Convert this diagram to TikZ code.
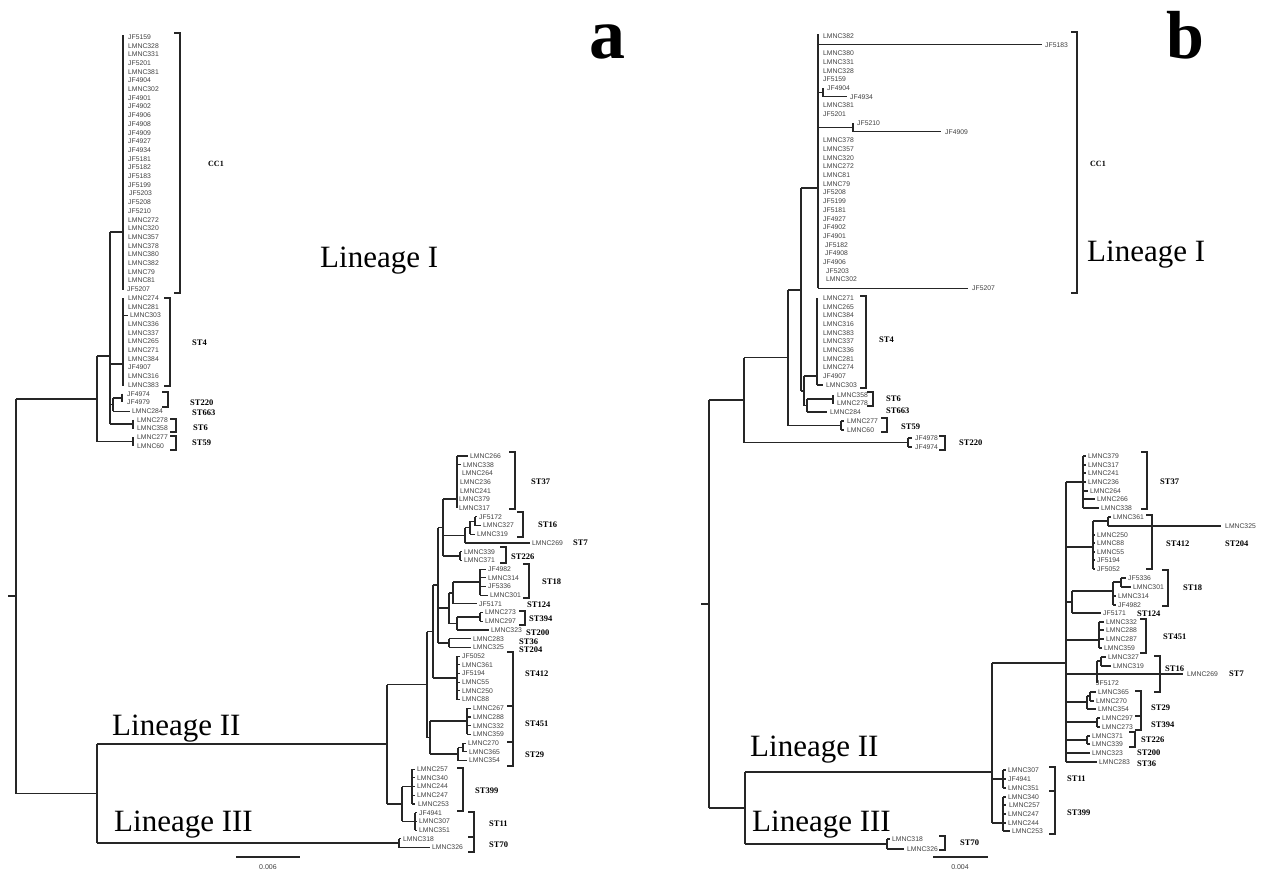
\documentclass[tikz,border=0pt]{standalone}
\usepackage{fontspec}
\setmainfont{Liberation Serif}
\newfontfamily\leaffont{Liberation Sans}
\tikzset{
 leaf/.style={font=\leaffont\fontsize{6.8}{7}\selectfont, text=black!75, anchor=west, inner sep=0pt},
 stlab/.style={font=\bfseries\fontsize{8.5}{9}\selectfont, anchor=west, inner sep=0pt},
 lin/.style={font=\fontsize{31}{31}\selectfont, anchor=base west, inner sep=0pt},
 panel/.style={font=\bfseries\fontsize{68}{68}\selectfont, anchor=base west, inner sep=0pt},
 tree/.style={draw=black!85, line width=1.15pt},
 brk/.style={draw=black!85, line width=1.3pt},
 sc/.style={font=\leaffont\fontsize{7}{8}\selectfont, text=black!75, inner sep=0pt}
}
\newcommand\Brk[3]{\draw[brk] ({#1-6},#2) -- (#1,#2) -- (#1,#3) -- ({#1-6},#3);}
\begin{document}
\begin{tikzpicture}[x=1pt,y=-1pt]
\fill[white] (0,0) rectangle (1265,871);
\useasboundingbox (0,0) rectangle (1265,871);

% ---------------- panel letters and lineage labels
\node[panel,font=\bfseries\fontsize{72}{72}\selectfont] (pa) at (589,58) {a};
\node[panel] (pb) at (1166,58) {b};
\node[lin] (linAI) at (320,267) {Lineage I};
\node[lin] (linAII) at (112,735) {Lineage II};
\node[lin] (linAIII) at (114,831) {Lineage III};
\node[lin] (linBI) at (1087,261) {Lineage I};
\node[lin] (linBII) at (750,756) {Lineage II};
\node[lin] (linBIII) at (752,831) {Lineage III};

% ================= PANEL A, lineage I
\foreach \t/\x [count=\i from 0] in {JF5159/128,LMNC328/128,LMNC331/128,JF5201/128,LMNC381/128,JF4904/128,LMNC302/128,JF4901/128,JF4902/128,JF4906/128,JF4908/128,JF4909/128,JF4927/128,JF4934/128,JF5181/128,JF5182/128,JF5183/128,JF5199/128,JF5203/129,JF5208/128,JF5210/128,LMNC272/128,LMNC320/128,LMNC357/128,LMNC378/128,LMNC380/128,LMNC382/128,LMNC79/128,LMNC81/128,JF5207/127,
LMNC274/128,LMNC281/128,LMNC303/130,LMNC336/128,LMNC337/128,LMNC265/128,LMNC271/128,LMNC384/128,JF4907/128,LMNC316/128,LMNC383/128,
JF4974/127,JF4979/127,LMNC284/132,LMNC278/137,LMNC358/137,LMNC277/137,LMNC60/137}
  \node[leaf] (aT\i) at (\x,{37+8.7*\i}) {\t};

\draw[tree] (123,35) -- (123,290);
\draw[tree] (110,232) -- (123,232);
\draw[tree] (123,298) -- (123,386);
\draw[tree] (110,364) -- (123,364);
\draw[tree] (123,315.4) -- (128,315.4);
\draw[tree] (110,232) -- (110,424);
\draw[tree] (110,404.5) -- (113,404.5);
\draw[tree] (113,398) -- (113,411.1);
\draw[tree] (113,398) -- (122,398);
\draw[tree] (122,393.7) -- (122,402.4);
\draw[tree] (113,411.1) -- (130,411.1);
\draw[tree] (110,424) -- (133,424);
\draw[tree] (133,419.8) -- (133,428.5);
\draw[tree] (97,356) -- (97,441.5);
\draw[tree] (97,356) -- (110,356);
\draw[tree] (97,441.5) -- (133,441.5);
\draw[tree] (133,437.2) -- (133,445.9);
\draw[tree] (16,399) -- (97,399);
\draw[tree] (16,399) -- (16,793.5);
\draw[tree] (8,596) -- (16,596);

\Brk{180}{33}{293}
\Brk{170}{298}{386}
\Brk{168}{392}{407}
\Brk{176}{419}{432}
\Brk{176}{436}{450}
\node[stlab,font=\bfseries\fontsize{8}{9}\selectfont] (aCC1) at (208,164) {CC1};
\node[stlab] (aST4) at (192,343) {ST4};
\node[stlab] (aST220) at (190,403) {ST220};
\node[stlab] (aST663) at (192,413) {ST663};
\node[stlab] (aST6) at (193,428) {ST6};
\node[stlab] (aST59) at (192,443) {ST59};

% ================= PANEL A, lineages II and III
\foreach \t/\x [count=\i from 0] in {LMNC266/470,LMNC338/463,LMNC264/462,LMNC236/460,LMNC241/460,LMNC379/459,LMNC317/459,JF5172/479,LMNC327/483,LMNC319/477,LMNC269/532,LMNC339/464,LMNC371/464,JF4982/488,LMNC314/488,JF5336/488,LMNC301/490,JF5171/479,LMNC273/485,LMNC297/485,LMNC323/491,LMNC283/473,LMNC325/473,JF5052/462,LMNC361/462,JF5194/462,LMNC55/462,LMNC250/462,LMNC88/462,LMNC267/473,LMNC288/473,LMNC332/473,LMNC359/473,LMNC270/468,LMNC365/469,LMNC354/469,LMNC257/417,LMNC340/417,LMNC244/417,LMNC247/417,LMNC253/418,JF4941/419,LMNC307/419,LMNC351/419,LMNC318/403,LMNC326/432}
  \node[leaf] (aB\i) at (\x,{456+8.7*\i}) {\t};

% ST37
\draw[tree] (457,456) -- (457,508.2);
\draw[tree] (457,456) -- (468,456);
\draw[tree] (457,464.7) -- (461,464.7);
\draw[tree] (443,499) -- (457,499);
% ST16 / ST7
\draw[tree] (465,527.6) -- (465,543);
\draw[tree] (443,535.3) -- (465,535.3);
\draw[tree] (465,527.6) -- (470,527.6);
\draw[tree] (470,521.2) -- (470,534.3);
\draw[tree] (470,521.2) -- (475,521.2);
\draw[tree] (475,516.9) -- (475,525.6);
\draw[tree] (475,516.9) -- (477,516.9);
\draw[tree] (475,525.6) -- (481,525.6);
\draw[tree] (470,534.3) -- (475,534.3);
\draw[tree] (465,543) -- (530,543);
% ST226
\draw[tree] (443,556) -- (460,556);
\draw[tree] (460,551.7) -- (460,560.4);
\foreach \y in {551.7,560.4} \draw[tree] (460,\y) -- (462,\y);
\draw[tree] (443,499) -- (443,556);
\draw[tree] (438,527.5) -- (443,527.5);
% ST18 / ST124
\draw[tree] (480,569.1) -- (480,595.2);
\foreach \y in {569.1,577.8,586.5} \draw[tree] (480,\y) -- (486,\y);
\draw[tree] (480,595.2) -- (488,595.2);
\draw[tree] (453,582) -- (480,582);
\draw[tree] (453,603.9) -- (477,603.9);
\draw[tree] (453,582) -- (453,603.9);
% ST394 / ST200
\draw[tree] (480,612.6) -- (480,621.3);
\foreach \y in {612.6,621.3} \draw[tree] (480,\y) -- (483,\y);
\draw[tree] (457,617) -- (480,617);
\draw[tree] (457,630) -- (489,630);
\draw[tree] (457,617) -- (457,630);
\draw[tree] (449,593) -- (449,623.5);
\draw[tree] (449,593) -- (453,593);
\draw[tree] (449,623.5) -- (457,623.5);
\draw[tree] (438,608) -- (449,608);
% ST36 / ST204
\draw[tree] (449,638.7) -- (449,647.4);
\draw[tree] (449,638.7) -- (471,638.7);
\draw[tree] (449,647.4) -- (471,647.4);
\draw[tree] (438,643) -- (449,643);
\draw[tree] (438,527.5) -- (438,643);
\draw[tree] (433,585) -- (438,585);
% ST412
\draw[tree] (457,656.1) -- (457,699.6);
\foreach \y in {656.1,664.8,673.5,682.2,690.9,699.6} \draw[tree] (457,\y) -- (460,\y);
\draw[tree] (433,678) -- (457,678);
\draw[tree] (433,585) -- (433,678);
\draw[tree] (427,631.5) -- (433,631.5);
% ST451
\draw[tree] (467,708.3) -- (467,734.4);
\foreach \y in {708.3,717,725.7,734.4} \draw[tree] (467,\y) -- (471,\y);
\draw[tree] (430,721) -- (467,721);
% ST29
\draw[tree] (463,743.1) -- (463,751.8);
\draw[tree] (463,743.1) -- (466,743.1);
\draw[tree] (463,751.8) -- (467,751.8);
\draw[tree] (458,747.5) -- (463,747.5);
\draw[tree] (458,747.5) -- (458,760.5);
\draw[tree] (458,760.5) -- (467,760.5);
\draw[tree] (430,754) -- (458,754);
\draw[tree] (430,721) -- (430,754);
\draw[tree] (427,737.5) -- (430,737.5);
\draw[tree] (427,631.5) -- (427,737.5);
\draw[tree] (387,684.5) -- (427,684.5);
% ST399 / ST11
\draw[tree] (412,769.2) -- (412,804);
\foreach \y in {769.2,777.9,786.6,795.3,804} \draw[tree] (412,\y) -- (415,\y);
\draw[tree] (402,786.6) -- (412,786.6);
\draw[tree] (415,812.7) -- (415,830.1);
\foreach \y in {812.7,821.4,830.1} \draw[tree] (415,\y) -- (417,\y);
\draw[tree] (402,821.4) -- (415,821.4);
\draw[tree] (402,786.6) -- (402,821.4);
\draw[tree] (387,804) -- (402,804);
\draw[tree] (387,684.5) -- (387,804);
\draw[tree] (97,744) -- (387,744);
% lineage III
\draw[tree] (399,838.8) -- (399,847.5);
\draw[tree] (399,838.8) -- (401,838.8);
\draw[tree] (399,847.5) -- (430,847.5);
\draw[tree] (97,843) -- (399,843);
\draw[tree] (97,744) -- (97,843);
\draw[tree] (16,793.5) -- (97,793.5);

\Brk{515}{452}{509}
\Brk{523}{512}{537}
\Brk{506}{547}{563}
\Brk{529}{564}{598}
\Brk{525}{611}{625}
\Brk{513}{652}{706}
\Brk{513}{706}{742}
\Brk{513}{742}{766}
\Brk{463}{768}{811}
\Brk{474}{812}{837}
\Brk{474}{837}{852}
\node[stlab] (aST37) at (531,482) {ST37};
\node[stlab] (aST16) at (538,525) {ST16};
\node[stlab] (aST7) at (573,543) {ST7};
\node[stlab] (aST226) at (511,557) {ST226};
\node[stlab] (aST18) at (542,582) {ST18};
\node[stlab] (aST124) at (527,605) {ST124};
\node[stlab] (aST394) at (529,619) {ST394};
\node[stlab] (aST200) at (526,633) {ST200};
\node[stlab] (aST36) at (519,642) {ST36};
\node[stlab] (aST204) at (519,650) {ST204};
\node[stlab] (aST412) at (525,674) {ST412};
\node[stlab] (aST451) at (525,724) {ST451};
\node[stlab] (aST29) at (525,755) {ST29};
\node[stlab] (aST399) at (475,791) {ST399};
\node[stlab] (aST11) at (489,824) {ST11};
\node[stlab] (aST70) at (489,845) {ST70};

\draw[tree] (236,857) -- (300,857);
\node[sc] (aScale) at (268,867) {0.006};

% ================= PANEL B, lineage I
\foreach \t/\x [count=\i from 0] in {LMNC382/823,JF5183/1045,LMNC380/823,LMNC331/823,LMNC328/823,JF5159/823,JF4904/827,JF4934/850,LMNC381/823,JF5201/823,JF5210/857,JF4909/945,LMNC378/823,LMNC357/823,LMNC320/823,LMNC272/823,LMNC81/823,LMNC79/823,JF5208/823,JF5199/823,JF5181/823,JF4927/823,JF4902/823,JF4901/823,JF5182/825,JF4908/825,JF4906/823,JF5203/826,LMNC302/826,JF5207/972}
  \node[leaf] (bT\i) at (\x,{36+8.7*\i}) {\t};
\foreach \t/\x [count=\i from 0] in {LMNC271/823,LMNC265/823,LMNC384/823,LMNC316/823,LMNC383/823,LMNC337/823,LMNC336/823,LMNC281/823,LMNC274/823,JF4907/823,LMNC303/826}
  \node[leaf] (bS\i) at (\x,{298+8.7*\i}) {\t};
\node[leaf] (bL358) at (837,395) {LMNC358};
\node[leaf] (bL278) at (837,403.5) {LMNC278};
\node[leaf] (bL284) at (830,412) {LMNC284};
\node[leaf] (bL277) at (847,421) {LMNC277};
\node[leaf] (bL60) at (847,430) {LMNC60};
\node[leaf] (bJ4978) at (915,438) {JF4978};
\node[leaf] (bJ4974) at (915,447) {JF4974};

\draw[tree] (818,34) -- (818,288.3);
\draw[tree] (818,44.7) -- (1042,44.7);
\draw[tree] (818,92.5) -- (823,92.5);
\draw[tree] (823,88.2) -- (823,96.9);
\draw[tree] (823,96.9) -- (847,96.9);
\draw[tree] (818,127.4) -- (853,127.4);
\draw[tree] (853,123) -- (853,131.7);
\draw[tree] (853,131.7) -- (941,131.7);
\draw[tree] (818,288.3) -- (968,288.3);
\draw[tree] (801,188) -- (818,188);
\draw[tree] (817,298) -- (817,385);
\draw[tree] (817,385) -- (823,385);
\draw[tree] (804,376) -- (817,376);
\draw[tree] (833,395) -- (833,403.5);
\draw[tree] (807,399) -- (833,399);
\draw[tree] (807,412) -- (827,412);
\draw[tree] (807,399) -- (807,412);
\draw[tree] (804,405.5) -- (807,405.5);
\draw[tree] (804,376) -- (804,405.5);
\draw[tree] (801,391) -- (804,391);
\draw[tree] (801,188) -- (801,391);
\draw[tree] (841,421) -- (841,430);
\draw[tree] (841,421) -- (844,421);
\draw[tree] (841,430) -- (844,430);
\draw[tree] (788,290) -- (801,290);
\draw[tree] (788,425.5) -- (841,425.5);
\draw[tree] (788,290) -- (788,425.5);
\draw[tree] (908,438) -- (908,447);
\draw[tree] (908,438) -- (912,438);
\draw[tree] (908,447) -- (912,447);
\draw[tree] (744,357.5) -- (788,357.5);
\draw[tree] (744,442.5) -- (908,442.5);
\draw[tree] (744,357.5) -- (744,442.5);
\draw[tree] (709,400) -- (744,400);
\draw[tree] (709,400) -- (709,808);
\draw[tree] (701,604) -- (709,604);

\Brk{1077}{32}{293}
\Brk{866}{296}{388}
\Brk{873}{392}{406}
\Brk{887}{418}{432}
\Brk{945}{436}{450}
\node[stlab,font=\bfseries\fontsize{8}{9}\selectfont] (bCC1) at (1090,164) {CC1};
\node[stlab] (bST4) at (879,340) {ST4};
\node[stlab] (bST6) at (886,399) {ST6};
\node[stlab] (bST663) at (886,411) {ST663};
\node[stlab] (bST59) at (901,427) {ST59};
\node[stlab] (bST220) at (959,443) {ST220};

% ================= PANEL B, lineages II and III
\foreach \t/\x/\y [count=\i] in {LMNC379/1088/456,LMNC317/1088/465,LMNC241/1088/473,LMNC236/1088/482,LMNC264/1090/491,LMNC266/1097/499,LMNC338/1101/508,
LMNC361/1113/517,LMNC325/1225/526,LMNC250/1097/535,LMNC88/1097/543,LMNC55/1097/552,JF5194/1097/560,JF5052/1097/569,
JF5336/1128/578,LMNC301/1133/587,LMNC314/1118/596,JF4982/1118/605,JF5171/1103/613,
LMNC332/1106/622,LMNC288/1106/630,LMNC287/1106/639,LMNC359/1104/648,
LMNC327/1108/657,LMNC319/1113/666,LMNC269/1187/674,JF5172/1096/683,
LMNC365/1098/692,LMNC270/1096/701,LMNC354/1098/709,
LMNC297/1102/718,LMNC273/1102/727,LMNC371/1092/736,LMNC339/1092/744,LMNC323/1092/753,LMNC283/1099/762,
LMNC307/1008/770,JF4941/1008/779,LMNC351/1008/788,LMNC340/1008/797,LMNC257/1009/805,LMNC247/1008/814,LMNC244/1008/823,LMNC253/1012/831,
LMNC318/892/839,LMNC326/907/849}
  \node[leaf] (bB\i) at (\x,\y) {\t};

% ST37
\draw[tree] (1083,456) -- (1083,508);
\draw[tree] (1066,482) -- (1083,482);
\foreach \y in {456,465,473,482} \draw[tree] (1083,\y) -- (1086,\y);
\draw[tree] (1083,491) -- (1088,491);
\draw[tree] (1083,499) -- (1095,499);
\draw[tree] (1083,508) -- (1099,508);
% ST412 / ST204
\draw[tree] (1066,547) -- (1093,547);
\draw[tree] (1093,521) -- (1093,569);
\foreach \y in {535,543,552,560,569} \draw[tree] (1093,\y) -- (1095,\y);
\draw[tree] (1093,521) -- (1108,521);
\draw[tree] (1108,517) -- (1108,526);
\draw[tree] (1108,517) -- (1111,517);
\draw[tree] (1108,526) -- (1221,526);
% ST18 / ST124
\draw[tree] (1066,602) -- (1072,602);
\draw[tree] (1072,591) -- (1072,613);
\draw[tree] (1072,591) -- (1113,591);
\draw[tree] (1113,582) -- (1113,605);
\draw[tree] (1113,582) -- (1121,582);
\draw[tree] (1121,578) -- (1121,587);
\draw[tree] (1121,578) -- (1126,578);
\draw[tree] (1121,587) -- (1131,587);
\draw[tree] (1113,596) -- (1116,596);
\draw[tree] (1113,605) -- (1116,605);
\draw[tree] (1072,613) -- (1101,613);
% ST451
\draw[tree] (1066,640) -- (1099,640);
\draw[tree] (1099,622) -- (1099,648);
\foreach \y in {622,630,639} \draw[tree] (1099,\y) -- (1104,\y);
\draw[tree] (1099,648) -- (1102,648);
% ST16 / ST7
\draw[tree] (1066,674) -- (1183,674);
\draw[tree] (1097,661) -- (1097,683);
\draw[tree] (1097,661) -- (1101,661);
\draw[tree] (1101,657) -- (1101,666);
\draw[tree] (1101,657) -- (1106,657);
\draw[tree] (1101,666) -- (1111,666);
% ST29
\draw[tree] (1066,702) -- (1087,702);
\draw[tree] (1087,696) -- (1087,709);
\draw[tree] (1087,696) -- (1090,696);
\draw[tree] (1090,692) -- (1090,701);
\draw[tree] (1090,692) -- (1096,692);
\draw[tree] (1090,701) -- (1094,701);
\draw[tree] (1087,709) -- (1096,709);
% ST394
\draw[tree] (1066,722) -- (1097,722);
\draw[tree] (1097,718) -- (1097,727);
\foreach \y in {718,727} \draw[tree] (1097,\y) -- (1100,\y);
% ST226
\draw[tree] (1066,740) -- (1087,740);
\draw[tree] (1087,736) -- (1087,744);
\foreach \y in {736,744} \draw[tree] (1087,\y) -- (1090,\y);
\draw[tree] (1066,753) -- (1090,753);
\draw[tree] (1066,762) -- (1097,762);
\draw[tree] (1066,482) -- (1066,762);
\draw[tree] (992,663) -- (1066,663);
% ST11 / ST399
\draw[tree] (1003,770) -- (1003,788);
\foreach \y in {770,779,788} \draw[tree] (1003,\y) -- (1006,\y);
\draw[tree] (992,779) -- (1003,779);
\draw[tree] (1003,797) -- (1003,831);
\foreach \y in {797,805,814,823} \draw[tree] (1003,\y) -- (1006,\y);
\draw[tree] (1003,831) -- (1010,831);
\draw[tree] (992,823) -- (1003,823);
\draw[tree] (992,663) -- (992,823);
\draw[tree] (745,772) -- (992,772);
% lineage III
\draw[tree] (887,839) -- (887,849);
\draw[tree] (887,839) -- (890,839);
\draw[tree] (887,849) -- (904,849);
\draw[tree] (745,844) -- (887,844);
\draw[tree] (745,772) -- (745,844);
\draw[tree] (709,808) -- (745,808);

\Brk{1147}{452}{509}
\Brk{1152}{515}{569}
\Brk{1168}{570}{606}
\Brk{1146}{619}{653}
\Brk{1160}{656}{692}
\Brk{1141}{691}{716}
\Brk{1141}{716}{730}
\Brk{1135}{732}{747}
\Brk{1055}{767}{791}
\Brk{1055}{791}{834}
\Brk{945}{836}{850}
\node[stlab] (bST37) at (1160,482) {ST37};
\node[stlab] (bST412) at (1166,544) {ST412};
\node[stlab] (bST204) at (1225,544) {ST204};
\node[stlab] (bST18) at (1183,588) {ST18};
\node[stlab] (bST124) at (1137,614) {ST124};
\node[stlab] (bST451) at (1163,637) {ST451};
\node[stlab] (bST16) at (1165,669) {ST16};
\node[stlab] (bST7) at (1229,674) {ST7};
\node[stlab] (bST29) at (1151,708) {ST29};
\node[stlab] (bST394) at (1151,725) {ST394};
\node[stlab] (bST226) at (1141,740) {ST226};
\node[stlab] (bST200) at (1137,753) {ST200};
\node[stlab] (bST36) at (1137,764) {ST36};
\node[stlab] (bST11) at (1067,779) {ST11};
\node[stlab] (bST399) at (1067,813) {ST399};
\node[stlab] (bST70) at (960,843) {ST70};

\draw[tree] (933,857) -- (988,857);
\node[sc] (bScale) at (960,867) {0.004};
\end{tikzpicture}
\end{document}
